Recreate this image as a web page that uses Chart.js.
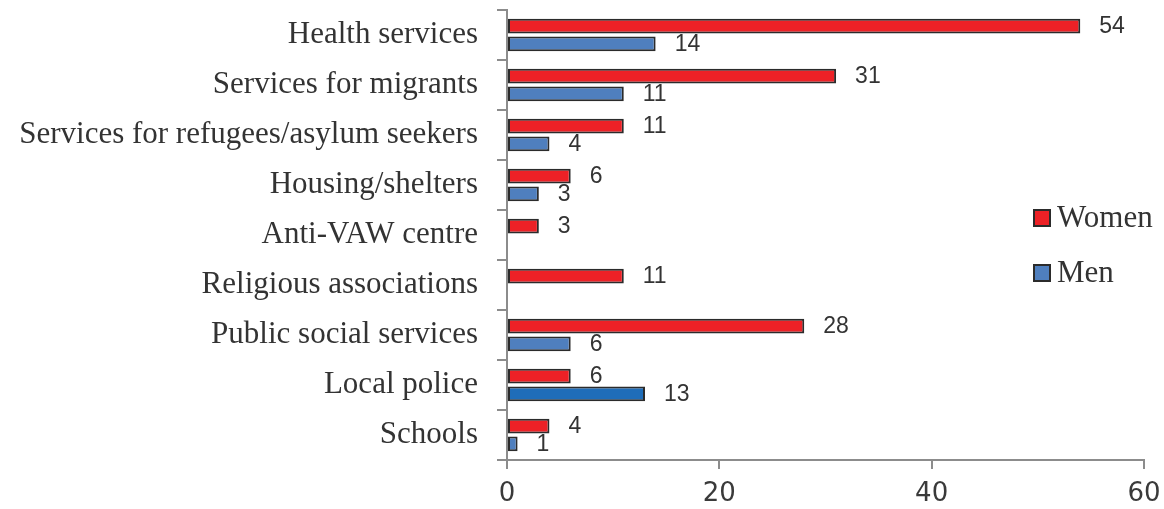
<!DOCTYPE html>
<html>
<head>
<meta charset="utf-8">
<script src="https://cdn.jsdelivr.net/npm/chart.js@4.4.1/dist/chart.umd.min.js"></script>
<style>
  html, body { margin: 0; padding: 0; background: #fff; }
  #wrap { width: 1164px; height: 509px; position: relative; }
</style>
</head>
<body>
<div id="wrap"><canvas id="myChart"></canvas></div>
<script>
const categories = [
  'Health services',
  'Services for migrants',
  'Services for refugees/asylum seekers',
  'Housing/shelters',
  'Anti-VAW centre',
  'Religious associations',
  'Public social services',
  'Local police',
  'Schools'
];
const women = [54, 31, 11, 6, 3, 11, 28, 6, 4];
const men = [14, 11, 4, 3, null, null, 6, 13, 1];
const xTicks = [0, 20, 40, 60];

const RED = '#ED2126';
const BLUE = '#4F7FBE';
const BLUE_DARK = '#1F6DB9';
const EDGE = '#2b2b2b';
const AXIS = '#8c8c8c';
const TEXT = '#333333';

// value labels to the right of each bar
const valueLabels = {
  id: 'valueLabels',
  afterDatasetsDraw(chart) {
    const c = chart.ctx;
    c.save();
    c.font = '23px "Liberation Sans", Arial, sans-serif';
    c.fillStyle = TEXT;
    c.textAlign = 'left';
    c.textBaseline = 'middle';
    chart.data.datasets.forEach((ds, i) => {
      chart.getDatasetMeta(i).data.forEach((bar, j) => {
        const v = ds.data[j];
        if (v == null) return;
        c.fillText(String(v), bar.x + 19, bar.y + 1);
      });
    });
    c.restore();
  }
};

// legend sits inside the plot, at the right
const sideLegend = {
  id: 'sideLegend',
  afterDraw(chart) {
    const c = chart.ctx;
    c.save();
    c.font = '31px "Liberation Serif", "Times New Roman", serif';
    c.textBaseline = 'middle';
    c.textAlign = 'left';
    const rows = [
      { label: chart.data.datasets[0].label, color: RED, y: 218 },
      { label: chart.data.datasets[1].label, color: BLUE, y: 273 }
    ];
    rows.forEach(r => {
      c.fillStyle = r.color;
      c.fillRect(1034, r.y - 8, 16, 16);
      c.strokeStyle = EDGE;
      c.lineWidth = 2;
      c.strokeRect(1034, r.y - 8, 16, 16);
      c.fillStyle = TEXT;
      c.fillText(r.label, 1057, r.y + 1);
    });
    c.restore();
  }
};

new Chart(document.getElementById('myChart'), {
  type: 'bar',
  data: {
    labels: categories,
    datasets: [
      {
        label: 'Women',
        data: women,
        backgroundColor: RED,
        borderColor: EDGE,
        borderWidth: 2,
        borderSkipped: false,
        categoryPercentage: 0.71,
        barPercentage: 0.82
      },
      {
        label: 'Men',
        data: men,
        backgroundColor: categories.map(c => c === 'Local police' ? BLUE_DARK : BLUE),
        borderColor: EDGE,
        borderWidth: 2,
        borderSkipped: false,
        categoryPercentage: 0.71,
        barPercentage: 0.82
      }
    ]
  },
  options: {
    indexAxis: 'y',
    responsive: true,
    maintainAspectRatio: false,
    animation: false,
    layout: { padding: { top: 10, right: 20, left: 0, bottom: 0 } },
    scales: {
      x: {
        min: 0,
        max: 60,
        afterBuildTicks: s => { s.ticks = xTicks.map(v => ({ value: v })); },
        afterFit: s => { s.height = 49; s.paddingLeft = 0; s.paddingRight = 0; },
        border: { display: true, color: AXIS, width: 2 },
        grid: { drawOnChartArea: false, color: AXIS, lineWidth: 2, tickLength: 9 },
        ticks: {
          color: '#3a3a3a',
          padding: 10,
          font: { family: '"DejaVu Sans", sans-serif', size: 26 }
        }
      },
      y: {
        afterFit: s => { s.width = 507; s.paddingTop = 0; s.paddingBottom = 0; },
        border: { display: true, color: AXIS, width: 2 },
        grid: { drawOnChartArea: false, color: AXIS, lineWidth: 2, tickLength: 10 },
        ticks: {
          color: TEXT,
          padding: 19,
          font: { family: '"Liberation Serif", "Times New Roman", serif', size: 31 }
        }
      }
    },
    plugins: {
      legend: { display: false },
      tooltip: { enabled: false }
    }
  },
  plugins: [valueLabels, sideLegend]
});
</script>
</body>
</html>
